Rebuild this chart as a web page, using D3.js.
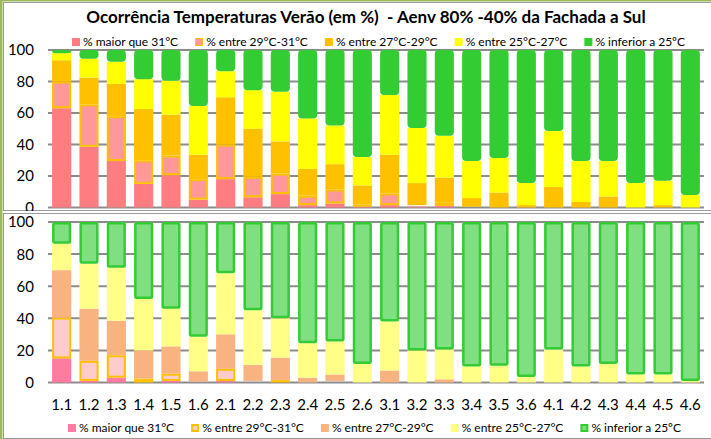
<!DOCTYPE html>
<html>
<head>
  <script src="https://d3js.org/d3.v7.min.js"></script>
  <style>
    body { margin: 0; background: #fff; }
    svg { display: block; font-family: Lato, "Open Sans", sans-serif; }
  </style>
</head>
<body>
  <script>
    // categories and legend labels
    const categories = ["1.1", "1.2", "1.3", "1.4", "1.5", "1.6", "2.1", "2.2", "2.3", "2.4", "2.5", "2.6",
      "3.1", "3.2", "3.3", "3.4", "3.5", "3.6", "4.1", "4.2", "4.3", "4.4", "4.5", "4.6"];
    const seriesNames = ["% maior que 31°C", "% entre 29°C-31°C", "% entre 27°C-29°C", "% entre 25°C-27°C", "% inferior a 25ºC"];
    const yTicks = [0, 20, 40, 60, 80, 100];

    // top chart values (%)
    const topAbove31 = [63, 38.5, 29.5, 15, 20.5, 5, 18, 6.5, 8.5, 1.5, 2.5, 0.5, 1.5, 0.5, 1, 0, 0, 0, 0, 0, 0, 0, 0, 0];
    const top29to31 = [17, 27, 28.5, 15, 12.5, 13, 22, 13, 13, 6, 9, 1.5, 7.5, 1, 2, 0.5, 0, 0, 0, 0, 0, 0, 0, 0];
    const top27to29 = [13.5, 17, 20.5, 32.5, 26, 15.5, 30, 30.5, 20.5, 17, 16, 12, 24.5, 14, 16, 5.5, 9.5, 1.5, 13, 3.5, 7, 0, 1.5, 0];
    const top25to27 = [4.5, 12, 14, 19, 21.5, 31, 16.5, 24.5, 31.5, 32, 24.5, 18, 38, 35, 26.5, 23.5, 22, 14, 35.5, 26, 22.5, 15.5, 15.5, 8];
    const topBelow25 = [2, 5.5, 7.5, 18.5, 19.5, 35.5, 13.5, 25.5, 26.5, 43.5, 48, 68, 28.5, 49.5, 54.5, 70.5, 68.5, 84.5, 51.5, 70.5, 70.5, 84.5, 83, 92];

    // bottom chart values (%)
    const botAbove31 = [15, 1, 3, 0, 1, 0, 1, 0, 0, 0, 0, 0, 0, 0, 0, 0, 0, 0, 0, 0, 0, 0, 0, 0];
    const bot29to31 = [25.5, 12.5, 14, 2.5, 4.5, 0.5, 7.5, 1, 1.5, 0, 1, 0, 0, 0, 0, 0, 0, 0, 0, 0, 0, 0, 0, 0];
    const bot27to29 = [29.5, 32.5, 21.5, 17.5, 17, 6.5, 21.5, 10, 14, 3, 4, 0, 7.5, 0, 2, 0, 0, 0, 0, 0, 0, 0, 0, 0];
    const bot25to27 = [16.5, 28, 33, 32, 23.5, 21.5, 38, 34, 24.5, 21.5, 20.5, 11.5, 30.5, 20, 18.5, 10, 10.5, 3.5, 20.5, 10, 11.5, 5, 5, 1];
    const botBelow25 = [13.5, 26, 28.5, 48, 54, 71.5, 32, 55, 60, 75.5, 74.5, 88.5, 62, 80, 79.5, 90, 89.5, 96.5, 79.5, 90, 88.5, 95, 95, 99];

    const W = 711, H = 439;
    const svg = d3.select("body").append("svg").attr("width", W).attr("height", H);

    const panels = [
      {
        series: [topAbove31, top29to31, top27to29, top25to27, topBelow25],
        fills: ["#FF7C80", "#FF9999", "#FFC000", "#FFFF00", "#33CC33"],
        strokes: [null, "#FFC000", null, null, null],
        frame: [3, 2, 711, 211], y: [207.5, 50], legendY: 42, legendX: 72, xLabels: false, greenRx: 4,
        legendStroke: 1
      },
      {
        series: [botAbove31, bot29to31, bot27to29, bot25to27, botBelow25],
        fills: ["#FF7BA0", "#FFCCCC", "#F8B380", "#FFFF88", "#80DF80"],
        strokes: [null, "#FFC000", null, null, "#33CC33"],
        frame: [3, 213, 711, 439], y: [382.5, 222], legendY: 428, legendX: 68, xLabels: true, greenRx: 1,
        legendStroke: 2
      }
    ];

    svg.append("rect").attr("x", 0).attr("y", 0).attr("width", W).attr("height", H)
      .attr("fill", "#fff");

    const x = d3.scaleBand().domain(categories).range([48, 704]).paddingInner(0.3).paddingOuter(0.15);

    panels.forEach((p, pi) => {
      const [fx0, fy0, fx1, fy1] = p.frame;
      const clipId = "clip" + pi;
      svg.append("clipPath").attr("id", clipId).append("rect")
        .attr("x", fx0).attr("y", fy0).attr("width", fx1 - fx0).attr("height", fy1 - fy0);
      const g = svg.append("g").attr("clip-path", `url(#${clipId})`);

      g.append("rect").attr("x", fx0 + 0.5).attr("y", fy0 + 0.5)
        .attr("width", fx1 - fx0 + 2).attr("height", fy1 - fy0 - 1)
        .attr("fill", "#fff").attr("stroke", "#9a9a9a").attr("stroke-width", 1);

      const y = d3.scaleLinear().domain([0, 100]).range(p.y);

      // gridlines
      g.selectAll(".grid").data(yTicks).join("line")
        .attr("x1", 48).attr("x2", 704)
        .attr("y1", d => y(d)).attr("y2", d => y(d))
        .attr("stroke", "#8c8c8c").attr("stroke-width", 2);

      // y tick labels (the top panel's "0" is cut by its frame, as in the original)
      g.selectAll(".ytick").data(yTicks).join("text")
        .attr("x", 34).attr("y", d => y(d)).attr("dy", "0.36em")
        .attr("text-anchor", "end").attr("font-size", 15).attr("fill", "#000")
        .text(d => d);

      const rows = categories.map((c, i) => {
        const r = { cat: c };
        p.series.forEach((s, k) => r["s" + k] = s[i]);
        return r;
      });
      const stack = d3.stack().keys(p.series.map((s, k) => "s" + k))(rows);

      stack.forEach((layer, k) => {
        const stroke = p.strokes[k];
        const sw = k === 4 ? 2.5 : 2;
        const inset = stroke ? sw / 2 : 0;
        g.selectAll(".seg" + k).data(layer.filter(d => d[1] - d[0] > 0)).join("rect")
          .attr("x", d => x(d.data.cat) + inset)
          .attr("width", x.bandwidth() - 2 * inset)
          .attr("y", d => y(d[1]) + inset)
          .attr("height", d => Math.max(0, y(d[0]) - y(d[1]) - 2 * inset))
          .attr("rx", k === 4 ? p.greenRx : 0)
          .attr("fill", p.fills[k])
          .attr("stroke", stroke || "none")
          .attr("stroke-width", stroke ? sw : 0);
      });

      // x labels
      if (p.xLabels) {
        g.selectAll(".xlab").data(categories).join("text")
          .attr("x", d => x(d) + x.bandwidth() / 2).attr("y", 405).attr("dy", "0.36em")
          .attr("text-anchor", "middle").attr("font-size", 15).attr("fill", "#000")
          .text(d => d);
      }

      // legend
      let lx = p.legendX;
      seriesNames.forEach((name, k) => {
        const stroke = p.strokes[k];
        const ls = stroke ? p.legendStroke : 0;
        g.append("rect")
          .attr("x", lx + ls / 2).attr("y", p.legendY - 4 + ls / 2)
          .attr("width", 8 - ls).attr("height", 8 - ls)
          .attr("fill", p.fills[k])
          .attr("stroke", stroke || "none").attr("stroke-width", ls);
        const t = g.append("text")
          .attr("x", lx + 11).attr("y", p.legendY).attr("dy", "0.36em")
          .attr("font-size", 12).attr("fill", "#000")
          .text(name);
        lx += 11 + t.node().getComputedTextLength() + 17;
      });
    });

    // title
    svg.append("text")
      .attr("x", 366).attr("y", 17).attr("dy", "0.36em")
      .attr("text-anchor", "middle").attr("font-size", 17).attr("font-weight", "bold")
      .attr("fill", "#000")
      .style("white-space", "pre")
      .text("Ocorrência Temperaturas Verão (em %)  - Aenv 80% -40% da Fachada a Sul");

    // outer green border (left and top)
    svg.append("line").attr("x1", 1).attr("x2", 1).attr("y1", 0).attr("y2", H)
      .attr("stroke", "#9BBB59").attr("stroke-width", 3);
    svg.append("line").attr("x1", 0).attr("x2", W).attr("y1", 0.75).attr("y2", 0.75)
      .attr("stroke", "#9BBB59").attr("stroke-width", 1.5);
  </script>
</body>
</html>
